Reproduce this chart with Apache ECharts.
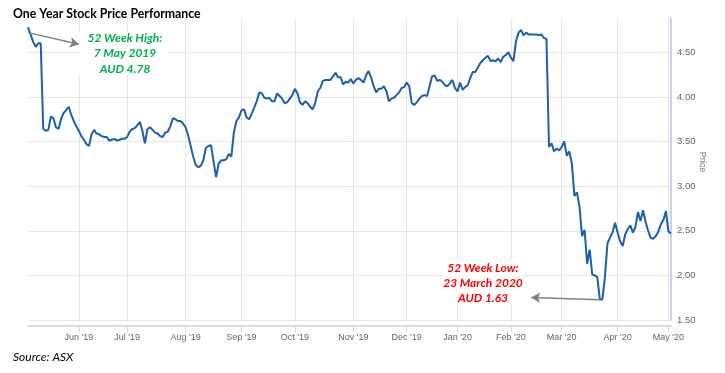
<!DOCTYPE html>
<html>
<head>
<meta charset="utf-8">
<script src="https://cdn.jsdelivr.net/npm/echarts@6/dist/echarts.min.js"></script>
<style>html,body{margin:0;padding:0;background:#fff;}#chart{width:725px;height:373px;}</style>
</head>
<body>
<div id="chart"></div>
<script>
// ---- Data ----
const startDate = '2019-05-06';
const endDate = '2020-05-04';
const holidays = ['2019-06-10','2019-12-25','2019-12-26','2020-01-01','2020-01-27','2020-04-10','2020-04-13'];
const prices = [
  4.78, 4.70, 4.62, 4.56, 4.60, 4.60, 3.64, 3.62, 3.63, 3.78,
  3.76, 3.66, 3.64, 3.75, 3.82, 3.85, 3.89, 3.80, 3.73, 3.67,
  3.62, 3.56, 3.52, 3.47, 3.45, 3.58, 3.63, 3.59, 3.58, 3.56,
  3.55, 3.55, 3.51, 3.52, 3.53, 3.51, 3.52, 3.53, 3.53, 3.55,
  3.61, 3.64, 3.65, 3.68, 3.72, 3.62, 3.48, 3.64, 3.66, 3.63,
  3.60, 3.59, 3.56, 3.55, 3.60, 3.61, 3.67, 3.76, 3.75, 3.73,
  3.73, 3.70, 3.66, 3.57, 3.45, 3.33, 3.24, 3.21, 3.23, 3.29,
  3.43, 3.45, 3.46, 3.28, 3.10, 3.25, 3.29, 3.29, 3.30, 3.36,
  3.33, 3.60, 3.73, 3.77, 3.85, 3.86, 3.77, 3.75, 3.81, 3.88,
  3.95, 4.05, 4.04, 3.99, 3.98, 3.99, 3.95, 3.95, 4.04, 4.01,
  3.98, 3.93, 3.94, 3.98, 4.02, 4.09, 4.04, 3.94, 3.91, 3.95,
  3.93, 3.89, 3.86, 3.93, 4.06, 4.10, 4.18, 4.19, 4.19, 4.19,
  4.23, 4.27, 4.22, 4.22, 4.14, 4.17, 4.16, 4.20, 4.15, 4.19,
  4.21, 4.19, 4.16, 4.24, 4.29, 4.22, 4.12, 4.05, 4.09, 4.09,
  4.12, 4.07, 3.95, 3.98, 3.99, 4.02, 4.05, 4.10, 4.11, 4.16,
  4.12, 3.93, 3.91, 3.94, 3.98, 4.01, 4.02, 4.01, 4.12, 4.23,
  4.24, 4.18, 4.19, 4.17, 4.13, 4.12, 4.15, 4.19, 4.10, 4.06,
  4.16, 4.08, 4.11, 4.13, 4.21, 4.28, 4.28, 4.33, 4.38, 4.41,
  4.44, 4.46, 4.40, 4.41, 4.40, 4.43, 4.39, 4.45, 4.47, 4.50,
  4.44, 4.40, 4.62, 4.72, 4.75, 4.69, 4.72, 4.70, 4.70, 4.70,
  4.70, 4.69, 4.70, 4.66, 4.65, 3.44, 3.48, 3.39, 3.42, 3.40,
  3.44, 3.50, 3.34, 3.39, 3.25, 2.89, 2.93, 2.77, 2.44, 2.51,
  2.13, 2.29, 2.01, 2.00, 1.98, 1.73, 1.73, 1.98, 2.36, 2.42,
  2.48, 2.59, 2.48, 2.38, 2.33, 2.46, 2.52, 2.56, 2.48, 2.54,
  2.71, 2.61, 2.73, 2.60, 2.50, 2.42, 2.41, 2.44, 2.49, 2.57,
  2.62, 2.72, 2.49, 2.47
];
const yTicks = [1.5, 2.0, 2.5, 3.0, 3.5, 4.0, 4.5];
const monthNames = ['Jan','Feb','Mar','Apr','May','Jun','Jul','Aug','Sep','Oct','Nov','Dec'];
const highNote = ['52 Week High:', '7 May 2019', 'AUD 4.78'];
const lowNote = ['52 Week Low:', '23 March 2020', 'AUD 1.63'];
const highArrow = [[0, 4.72], [19.7, 4.59]];
const lowArrow = [[225, 1.728], [197.8, 1.753]];

// ---- Trading-day categories ----
function fmt(d){
  const m = d.getUTCMonth()+1, day = d.getUTCDate();
  return d.getUTCFullYear()+'-'+(m<10?'0':'')+m+'-'+(day<10?'0':'')+day;
}
const dates = [];
for (let d = new Date(startDate+'T00:00:00Z'); fmt(d) <= endDate; d.setUTCDate(d.getUTCDate()+1)) {
  const wd = d.getUTCDay();
  if (wd === 0 || wd === 6) continue;
  const s = fmt(d);
  if (holidays.indexOf(s) >= 0) continue;
  dates.push(s);
}
const monthStart = dates.map((s, i) => i > 0 && s.slice(0,7) !== dates[i-1].slice(0,7));
function monthLabel(s){
  const y = s.slice(2,4), m = parseInt(s.slice(5,7),10);
  return monthNames[m-1] + " '" + y;
}

const chart = echarts.init(document.getElementById('chart'), null, {renderer:'canvas'});
const noteFont = 'bold italic 12px Lato';
chart.setOption({
  animation: false,
  backgroundColor: '#fff',
  title: {
    text: 'One Year Stock Price Performance',
    left: 8, top: 3,
    textStyle: {fontFamily: 'Lato', fontWeight: 'bold', fontSize: 12.3, color: '#000'}
  },
  grid: {left: 28, right: 54, top: 18, bottom: 53, containLabel: false, outerBoundsMode: 'none'},
  xAxis: {
    type: 'category',
    data: dates,
    boundaryGap: false,
    offset: 6,
    axisLine: {show: true, lineStyle: {color: '#d3dce9', width: 2}},
    axisTick: {show: true, length: 6, interval: (i) => monthStart[i], lineStyle: {color: '#ccd6eb'}},
    axisLabel: {
      interval: (i) => monthStart[i],
      formatter: (v) => monthLabel(v),
      color: '#666', fontSize: 9, fontFamily: 'Liberation Sans', margin: 7
    },
    splitLine: {show: true, interval: (i) => monthStart[i], lineStyle: {color: '#e6e6e6', width: 1}}
  },
  yAxis: {
    type: 'value',
    position: 'right',
    min: yTicks[0], max: 4.884, interval: 0.5,
    name: 'Price', nameLocation: 'middle', nameRotate: -90, nameGap: 27, nameMoveOverlap: false,
    nameTextStyle: {color: '#777', fontSize: 9, fontFamily: 'Liberation Sans', padding: [0,14,0,0]},
    axisLine: {show: true, lineStyle: {color: '#c8d5e6', width: 2}},
    axisTick: {show: false},
    axisLabel: {
      color: '#666', fontSize: 9.5, fontFamily: 'Liberation Sans', margin: 6,
      padding: [0,0,9,0],
      showMaxLabel: false,
      formatter: (v) => yTicks.some(t => Math.abs(t - v) < 1e-6) ? v.toFixed(2) : ''
    },
    splitLine: {show: true, showMaxLine: false, lineStyle: {color: '#e6e6e6', width: 1}}
  },
  series: [{
    type: 'line',
    data: prices,
    symbol: 'none',
    lineStyle: {color: '#1c5fb0', width: 2},
    markLine: {
      silent: true,
      symbol: ['none', 'arrow'],
      symbolSize: [8, 9],
      label: {show: false},
      lineStyle: {color: '#808080', width: 1.5, type: 'solid'},
      data: [
        [{coord: highArrow[0]}, {coord: highArrow[1]}],
        [{coord: lowArrow[0]}, {coord: lowArrow[1]}]
      ]
    }
  }],
  graphic: [
    {type: 'rect', z: 100, shape: {x: 79, y: 31, width: 88, height: 43}, style: {fill: '#fff'}},
    {type: 'rect', z: 100, shape: {x: 444, y: 261, width: 77, height: 44}, style: {fill: '#fff'}},
    ...highNote.map((t, k) => ({type: 'text', z: 101, x: 125, y: 38 + k*15.5, style: {text: t, font: noteFont, fill: '#00b050', align: 'center', verticalAlign: 'middle'}})),
    ...lowNote.map((t, k) => ({type: 'text', z: 101, x: 483, y: 268 + k*15.2, style: {text: t, font: noteFont, fill: '#ff0000', align: 'center', verticalAlign: 'middle'}})),
    {type: 'text', x: 13, y: 357, style: {text: 'Source: ASX', font: 'italic 12px Lato', fill: '#000', align: 'left', verticalAlign: 'middle'}}
  ]
});
</script>
</body>
</html>
